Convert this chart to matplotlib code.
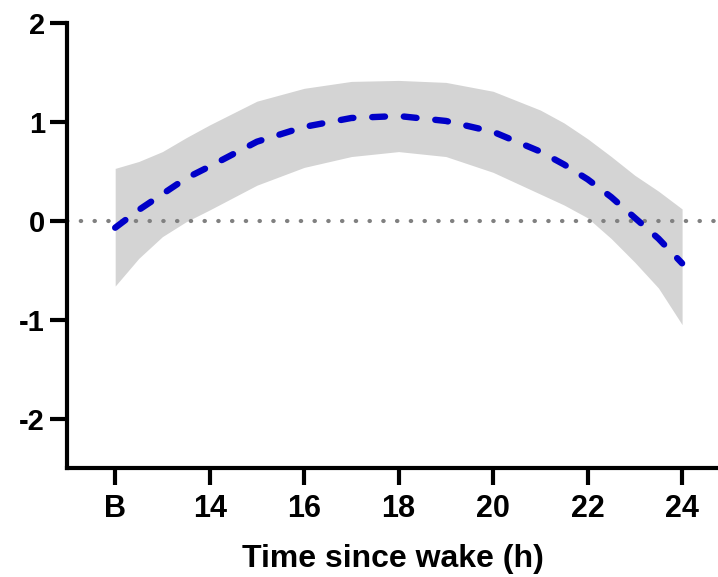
import numpy as np
import matplotlib
matplotlib.use("Agg")
from matplotlib import pyplot as plt

plt.rcParams['font.family'] = ['Liberation Sans', 'DejaVu Sans']
plt.rcParams['font.weight'] = 'bold'
plt.rcParams['axes.unicode_minus'] = False

# hours since wake (12 is shown as "B" = baseline)
hours = [12, 12.5, 13, 13.5, 14, 15, 16, 17, 18, 19, 20, 21, 21.5, 22, 22.5, 23, 23.5, 24]
mean = [-0.07, 0.11, 0.27, 0.43, 0.55, 0.80, 0.95, 1.04, 1.06, 1.01, 0.90, 0.70,
        0.57, 0.42, 0.24, 0.03, -0.18, -0.43]
upper = [0.53, 0.60, 0.70, 0.84, 0.97, 1.21, 1.34, 1.41, 1.42, 1.40, 1.31, 1.12,
         0.99, 0.83, 0.65, 0.46, 0.30, 0.12]
lower = [-0.66, -0.38, -0.16, -0.01, 0.11, 0.36, 0.54, 0.65, 0.70, 0.65, 0.49, 0.27,
         0.16, 0.03, -0.18, -0.42, -0.68, -1.05]

xticks = [12, 14, 16, 18, 20, 22, 24]
xticklabels = ['B', '14', '16', '18', '20', '22', '24']
yticks = [-2, -1, 0, 1, 2]

fig = plt.figure(figsize=(7.18, 5.77), dpi=100)
ax = fig.add_axes([0.0933, 0.189, 0.9067, 0.771])

ax.fill_between(hours, lower, upper, color='#d4d4d4', linewidth=0)
ax.axhline(0, color='#808080', linestyle=(0, (0.1, 3.2)), linewidth=3,
           dash_capstyle='round', zorder=1)
ax.plot(hours, mean, color='#0000c8', linewidth=4.6, linestyle=(0, (2.0, 2.95)),
        dash_capstyle='round', zorder=3)

ax.set_xlim(10.98, 24.76)
ax.set_ylim(-2.5, 2.0)
ax.set_xticks(xticks)
ax.set_xticklabels(xticklabels)
ax.set_yticks(yticks)

for s in ['top', 'right']:
    ax.spines[s].set_visible(False)
for s in ['left', 'bottom']:
    ax.spines[s].set_linewidth(3)
ax.tick_params(axis='both', width=3, length=12)
ax.tick_params(axis='y', labelsize=21, pad=4)
ax.tick_params(axis='x', labelsize=22, pad=7)

ax.set_xlabel('Time since wake (h)', fontsize=23, fontweight='bold', labelpad=14)

fig.savefig('out.png', dpi=100)
